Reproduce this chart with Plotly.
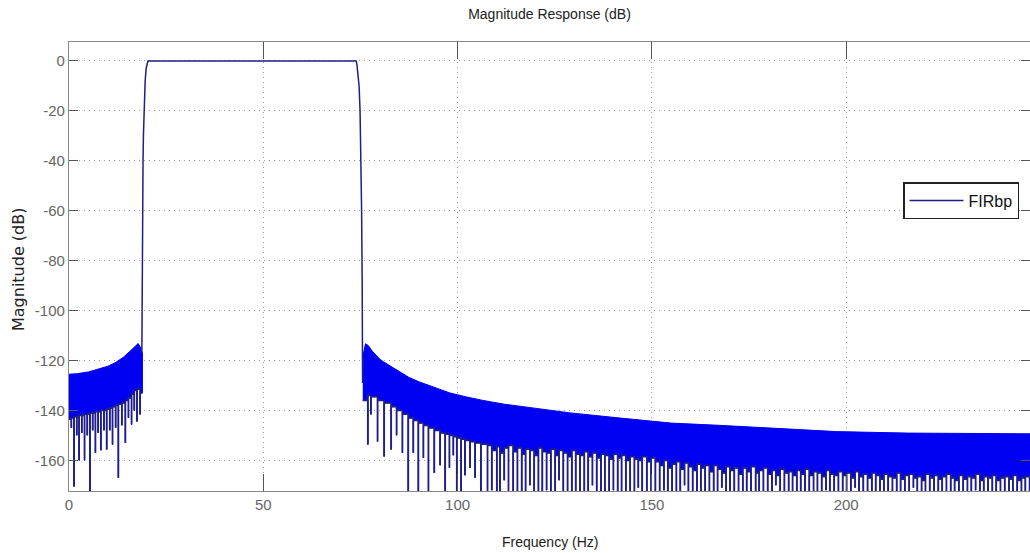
import plotly.graph_objects as go

# ---------------- data ----------------
# passband trace (transition edges + flat top), Hz / dB
pass_f = [18.75, 18.8, 18.85, 18.95, 19.05, 19.15, 19.35, 19.6, 19.85, 20.1, 20.3,
          40.0, 60.0, 73.9, 74.1, 74.4, 74.65, 74.9, 75.1, 75.3, 75.45, 75.55]
pass_db = [-117, -95, -75, -55, -40, -30, -15, -8, -3, -0.8, 0,
           0, 0, 0, -1.5, -5, -10, -20, -35, -60, -90, -129]

# lower stopband: upper envelope
low_up_f = [0, 2, 5, 8, 10, 12, 14, 15.5, 16.5, 17.3, 17.8, 18.3, 18.9]
low_up_db = [-125.5, -125.3, -124.6, -123.4, -122.3, -120.8, -118.7, -116.6,
             -115.0, -113.6, -113.2, -114.5, -117.0]
# lower stopband: notch spikes and the level of the gaps between them
low_spike_f = [0.6, 1.3, 2.0, 2.6, 3.3, 4.0, 4.7, 5.4, 6.1, 6.8, 7.5, 8.2, 9.0,
               9.7, 10.5, 11.2, 12.0, 12.7, 13.6, 14.5, 15.3, 16.1, 16.8, 17.5, 18.3]
low_spike_db = [-147, -170.5, -150, -160, -149, -160, -150, -180, -148, -157, -149,
                -156, -148, -155.7, -148, -153.7, -147, -167, -146, -153, -143,
                -145.7, -140, -144.5, -141.6]
low_gap_db = [-143.5, -143, -142.5, -142.5, -142, -142, -141.5, -141.5, -141, -141,
              -140.5, -140.5, -140, -140, -139.5, -139, -138.5, -138, -137.5, -137,
              -136, -135, -133.5, -132, -131.5, -133]

# upper stopband: upper envelope
up_up_f = [75.6, 75.8, 76.3, 77, 78, 79, 80, 81, 83, 85, 87.5, 90, 93, 96, 98, 102,
           106.5, 112, 118.6, 129, 142, 155, 167.5, 180.4, 197.5, 216, 250]
up_up_db = [-128, -117, -113.3, -114, -116.2, -117.8, -119.5, -120.6, -122.5, -124.7,
            -126.8, -128.5, -130.2, -131.8, -133, -134.5, -136, -137.5, -138.8, -141,
            -143.1, -145.1, -146, -147.1, -148.5, -149.1, -149.4]
# upper stopband: notch spikes
up_spike_f = [
    76.9, 77.7, 79.4, 81.1, 82.9, 84.3, 85.8, 87.3, 88.6, 89.9, 91.2, 92.5, 94.0,
    95.5, 96.8, 97.9, 98.9, 99.8, 100.9, 101.9, 103.2, 104.5, 106.0,
    107.7, 108.8, 110.1, 110.9, 112.0, 113.1, 114.3, 115.4, 116.5, 117.5,
    118.6, 119.7, 120.8, 121.8, 122.9, 124.0, 125.1, 126.1, 127.2, 128.3,
    129.4, 130.4, 131.5, 132.6, 133.6, 134.7, 135.8, 136.9, 137.9, 139.0,
    140.1, 141.2, 142.2, 143.3, 144.4, 145.5, 146.5, 147.5, 148.7, 149.8,
    150.9, 152.0, 153.1, 154.1, 155.2, 156.3, 157.3, 158.4, 159.4, 160.5,
    161.6, 162.6, 163.7, 164.8, 165.9, 166.9, 168.0, 169.1, 170.1, 171.2,
    172.3, 173.4, 174.4, 175.5, 176.7, 177.6, 178.7, 179.8, 180.9, 181.9,
    183.0, 184.1, 185.2, 186.2, 187.3, 188.3, 189.4, 190.5, 191.6, 192.6,
    193.7, 194.8, 195.8, 196.9, 198.0, 199.1, 200.1, 201.2, 202.3, 203.3,
    204.4, 205.5, 206.6, 207.6, 208.7, 209.7, 210.8, 211.9, 213.0, 214.0,
    215.1, 216.2, 217.3, 218.3, 219.4, 220.4, 221.5, 222.6, 223.7, 224.7,
    225.8, 226.9, 227.9, 229.0, 230.1, 231.2, 232.2, 233.3, 234.4, 235.4,
    236.5, 237.6, 238.6, 239.7, 240.8, 241.9, 242.9, 244.0, 245.1, 246.1,
    247.2]
up_spike_db = [
    -153.7, -141.6, -152.5, -158.5, -155.7, -150.0, -157.0, -180, -157.0, -180,
    -159.0, -180, -165.0, -162.0, -180, -163.0, -158.0, -180, -180, -166.0,
    -163.0, -167.0, -180,
    -180, -172, -180, -180, -168, -180, -180, -175, -180, -180, -170, -180, -180,
    -180, -172, -180, -180, -168, -180, -180, -180, -174, -180, -180, -180, -170,
    -180, -180, -180, -180, -172, -180, -180, -180, -180, -180, -171, -180, -180,
    -180,
    -180, -180, -172, -180, -180, -180, -180, -170, -180, -180,
    -180, -175, -180, -180, -180, -180, -171, -180, -180, -180,
    -180, -180, -180, -173, -180, -180, -180, -180, -180, -170,
    -180, -180, -180, -180, -174, -180, -180, -180, -180, -180,
    -180, -172, -180, -180, -180, -180, -180, -180, -171, -180,
    -180, -180, -180, -180, -180, -173, -180, -180, -180, -180,
    -180, -180, -171, -180, -180, -180, -180, -180, -180, -180,
    -174, -180, -180, -180, -180, -180, -180, -172, -180, -180,
    -180, -180, -180, -180, -173, -180, -180, -180, -180, -180,
    -180]
up_gap_db = [
    -136,
    -134, -134.5, -136, -137, -138.5, -140, -141.5, -143, -144, -145, -146, -147,
    -148, -149, -149.5, -150, -150.5, -151, -151.5, -152, -152.5, -153, -153.5,
    -154, -156, -154.5, -157, -155, -154, -156.5, -155, -157.5, -155.5,
    -156, -158, -155, -156.5, -157, -155.5, -158, -156, -157, -158.5,
    -156, -157.5, -158, -156.5, -158.5, -157, -159, -157.5, -158, -159.5,
    -157.5, -159, -158, -160, -158.5, -159.5, -160, -158.5, -160.5, -159,
    -160.5, -162, -160, -163, -161.5, -160.5, -163.5, -161, -162.5, -164,
    -161.5, -163, -162, -164.5, -162, -163.5, -165, -162.5, -164, -163,
    -165.5, -163, -164.5, -162.5, -165, -164, -163, -165.5, -164, -166,
    -163.5, -165, -164.5, -166, -164, -165.5, -163.5, -166, -164.5, -165,
    -166.5, -164, -165.5, -166, -164.5, -166,
    -165, -167, -164.5, -166.5, -165.5, -167, -165, -166, -167.5, -165.5,
    -166.5, -167, -165, -167.5, -166, -165.5, -167, -166.5, -168, -165.5,
    -167, -166, -167.5, -166.5, -165.5, -167, -168, -166, -167.5, -166.5,
    -167, -165.5, -168, -166.5, -167, -166, -168, -167, -166.5, -167.5,
    -166, -168, -167, -166.5, -167.5]

x_ticks = [0, 50, 100, 150, 200]
x_tick_labels = ["0", "50", "100", "150", "200"]
y_ticks = [0, -20, -40, -60, -80, -100, -120, -140, -160]
y_tick_labels = ["0", "-20", "-40", "-60", "-80", "-100", "-120", "-140", "-160"]

title_text = "Magnitude Response (dB)"
x_label = "Frequency (Hz)"
y_label = "Magnitude (dB)"
series_name = "FIRbp"

# ---------------- styling ----------------
NARROW = "Liberation Sans Narrow, Arial Narrow, Liberation Sans, Arial, sans-serif"
FILL_BLUE = "#0000f2"
NAVY = "#1f1f84"


def stopband(up_f, up_db, sp_f, sp_db, gap_db):
    lx = [up_f[0]]
    ly = [gap_db[0]]
    for i, (f, d) in enumerate(zip(sp_f, sp_db)):
        lx += [f, f, f]
        ly += [gap_db[i], d, gap_db[i + 1]]
    lx.append(up_f[-1])
    ly.append(gap_db[-1])
    poly_x = list(up_f) + lx[::-1]
    poly_y = list(up_db) + ly[::-1]
    return poly_x, poly_y, lx, ly


fig = go.Figure()

for uf, ud, sf, sd, gd in [
    (low_up_f, low_up_db, low_spike_f, low_spike_db, low_gap_db),
    (up_up_f, up_up_db, up_spike_f, up_spike_db, up_gap_db),
]:
    px_, py_, lx, ly = stopband(uf, ud, sf, sd, gd)
    fig.add_trace(go.Scatter(x=px_, y=py_, mode="lines", fill="toself",
                             fillcolor=FILL_BLUE,
                             line=dict(color=FILL_BLUE, width=1),
                             showlegend=False, hoverinfo="skip"))
    fig.add_trace(go.Scatter(x=lx, y=ly, mode="lines",
                             line=dict(color=NAVY, width=1.8),
                             showlegend=False, hoverinfo="skip"))

fig.add_trace(go.Scatter(x=pass_f, y=pass_db, mode="lines", name=series_name,
                         line=dict(color=NAVY, width=1.5)))

axis_common = dict(
    showline=True, linecolor="#8a8a8a", linewidth=1.2, mirror="ticks",
    ticks="inside", tickcolor="#555555", tickwidth=1,
    showgrid=True, gridcolor="#9a9a9a", gridwidth=1, griddash="1px,4px",
    zeroline=False, automargin=False,
    tickfont=dict(family=NARROW, size=15, color="#666666"),
)

fig.update_xaxes(range=[0, 247.3], tickvals=x_ticks, ticktext=x_tick_labels,
                 ticklen=17, **axis_common)
fig.update_yaxes(range=[-172.3, 7.6], tickvals=y_ticks, ticktext=y_tick_labels,
                 ticklen=9, **axis_common)

fig.update_layout(
    width=1030, height=553,
    margin=dict(l=69, r=0, t=42, b=62, autoexpand=False),
    plot_bgcolor="white", paper_bgcolor="white",
    title=dict(text=title_text, x=0.5, xref="paper", xanchor="center",
               y=1 - 14 / 553, yref="container", yanchor="middle",
               font=dict(family=NARROW, size=14, color="#222222")),
    showlegend=True,
    legend=dict(x=(903 - 69) / 961, y=(491 - 182) / 449, xanchor="left", yanchor="top",
                bgcolor="white", bordercolor="#222222", borderwidth=1.5,
                itemwidth=54,
                font=dict(family=NARROW, size=16, color="#111111")),
    annotations=[
        dict(text=x_label, xref="paper", yref="paper", x=0.5, y=-(542 - 491) / 449,
             xanchor="center", yanchor="middle", showarrow=False,
             font=dict(family=NARROW, size=14, color="#222222")),
        dict(text=y_label, xref="paper", yref="paper", x=-(69 - 18) / 961,
             y=(491 - 270) / 449, xanchor="center", yanchor="middle",
             textangle=-90, showarrow=False,
             font=dict(family="DejaVu Sans, sans-serif", size=16, color="#222222")),
    ],
)

fig.write_html(
    "out.html",
    config={"displayModeBar": False},
    post_script="document.body.style.margin='0px';document.body.style.padding='0px';",
)
